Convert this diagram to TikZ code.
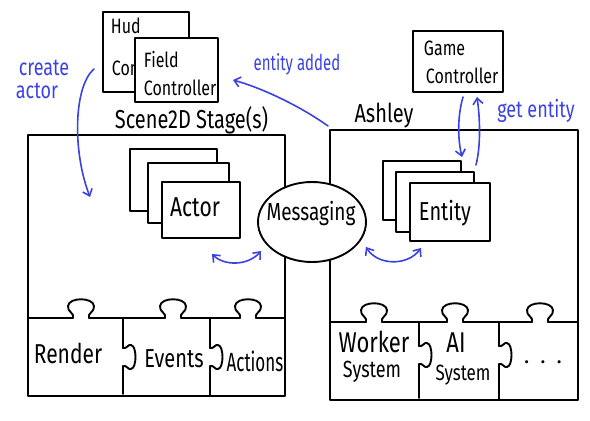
\documentclass[tikz,border=0pt]{standalone}
\usepackage{fontspec}
\usepackage{graphicx}
\setmainfont{Fira Sans}
\usetikzlibrary{arrows.meta,shapes.geometric}
\definecolor{pen}{RGB}{58,66,225}
\newcommand\hw[1]{\scalebox{1}[1.3]{#1}}
\newcommand\knobU[2]{-- ({#1-8},#2) .. controls ({#1-6},{#2-5}) and ({#1-14},{#2-6}) .. ({#1-13},{#2-12}) .. controls ({#1-12},{#2-21}) and ({#1+12},{#2-21}) .. ({#1+13},{#2-12}) .. controls ({#1+14},{#2-6}) and ({#1+6},{#2-5}) .. ({#1+8},#2)}
\newcommand\knobR[2]{-- (#1,{#2-9}) .. controls ({#1+4},{#2-8}) and ({#1+5},{#2-13}) .. ({#1+8},{#2-12}) .. controls ({#1+14},{#2-11}) and ({#1+14},{#2+11}) .. ({#1+8},{#2+12}) .. controls ({#1+5},{#2+13}) and ({#1+4},{#2+8}) .. (#1,{#2+9})}
\begin{document}
\begin{tikzpicture}[x=1pt,y=-1pt,line width=1.9pt,line join=round,line cap=round,
  box/.style={draw,fill=white,rectangle,inner sep=0pt},
  txt/.style={inner sep=0pt,anchor=base},
  note/.style={txt,text=pen},
  flow/.style={draw=pen,line width=1.6pt,-{Straight Barb[length=6pt,width=10pt]}},
  both/.style={draw=pen,line width=1.6pt,{Straight Barb[length=6pt,width=10pt]}-{Straight Barb[length=6pt,width=10pt]}}]
\useasboundingbox (0,0) rectangle (590,421);
% containers
\node[box,minimum width=257pt,minimum height=261pt] (scene) at (156.5,265.5) {};
\node[box,minimum width=248pt,minimum height=270pt] (ashley) at (454,265) {};
\node[txt,font=\fontsize{20}{22}\selectfont] (scenet) at (191.5,128) {\hw{Scene2D Stage(s)}};
\node[txt,font=\fontsize{20}{22}\selectfont] (ashleyt) at (384,122) {\hw{Ashley}};
% controllers
\node[box,minimum width=86pt,minimum height=80pt] (hud) at (146,52) {};
\node[txt,anchor=base west,font=\fontsize{16}{18}\selectfont] (hudt) at (110,33) {\hw{Hud}};
\begin{scope}
\clip (104,55) rectangle (135,90);
\node[txt,anchor=base west,font=\fontsize{16}{18}\selectfont] (hudc) at (111,75) {\hw{Con}};
\end{scope}
\node[box,minimum width=83pt,minimum height=64pt] (field) at (176.5,70) {};
\node[txt,anchor=base west,font=\fontsize{16}{18}\selectfont] (fieldt) at (143,67) {\hw{Field}};
\node[txt,anchor=base west,font=\fontsize{16}{18}\selectfont] (fieldc) at (143,95) {\hw{Controller}};
\node[box,minimum width=90pt,minimum height=61pt] (game) at (458,61.5) {};
\node[txt,anchor=base west,font=\fontsize{16}{18}\selectfont] (gamet) at (423,55) {\hw{Game}};
\node[txt,anchor=base west,font=\fontsize{16}{18}\selectfont] (gamec) at (425,83) {\hw{Controller}};
% stacks
\node[box,minimum width=87pt,minimum height=62pt] (a1) at (173.5,180) {};
\node[box,minimum width=81pt,minimum height=60pt] (a2) at (188.5,193) {};
\node[box,minimum width=78pt,minimum height=56pt] (actor) at (201,210) {};
\node[txt,font=\fontsize{21}{23}\selectfont] (actort) at (195,216) {\hw{Actor}};
\node[box,minimum width=78pt,minimum height=59pt] (e1) at (422,190.5) {};
\node[box,minimum width=78pt,minimum height=60pt] (e2) at (435,202) {};
\node[box,minimum width=80pt,minimum height=58pt] (entity) at (450,212) {};
\node[txt,font=\fontsize{20}{22}\selectfont] (entityt) at (445,220) {\hw{Entity}};
% messaging
\node[draw,fill=white,ellipse,minimum width=108pt,minimum height=80pt,inner sep=0pt] (msg) at (312,222) {};
\node[txt,font=\fontsize{19}{21}\selectfont] (msgt) at (311,220) {\hw{Messaging}};
% puzzles scene
\draw (28,318) \knobU{81}{318} \knobU{173}{318} \knobU{248}{318} -- (285,318);
\draw (123,318) \knobR{123}{357} -- (123,394);
\draw (210,318) \knobR{210}{357} -- (210,395);
\node[txt,font=\fontsize{21}{23}\selectfont] (render) at (68,363) {\hw{Render}};
\node[txt,font=\fontsize{20}{22}\selectfont] (events) at (174,367) {\hw{Events}};
\node[txt,font=\fontsize{17}{19}\selectfont] (actions) at (255,371) {\scalebox{1}[1.55]{Actions}};
% puzzles ashley
\draw (330,322) \knobU{374}{322} \knobU{455}{322} \knobU{540}{322} -- (578,322);
\draw (419,322) \knobR{419}{355} -- (419,398);
\draw (499,322) \knobR{499}{355} -- (499,399);
\node[txt,font=\fontsize{22}{24}\selectfont] (worker) at (374,352) {\hw{Worker}};
\node[txt,font=\fontsize{18}{20}\selectfont] (wsys) at (372,377) {\hw{System}};
\node[txt,font=\fontsize{22}{24}\selectfont] (ai) at (456,352) {\hw{AI}};
\node[txt,font=\fontsize{17}{19}\selectfont] (aisys) at (463,380) {\hw{System}};
\node[txt,font=\fontsize{22}{24}\selectfont] (dots) at (543,363) {.\,\,\,.\,\,\,.};
% notes
\node[note,font=\fontsize{18}{20}\selectfont] (createt) at (44,75) {\hw{create}};
\node[note,font=\fontsize{18}{20}\selectfont,anchor=base west] (actort2) at (15,98) {\hw{actor}};
\node[note,font=\fontsize{15}{17}\selectfont] (addedt) at (297,70) {\scalebox{1}[1.45]{entity added}};
\node[note,font=\fontsize{18}{20}\selectfont] (gett) at (536,117) {\hw{get entity}};
% connectors
\coordinate (cstart) at (94,69);
\coordinate (cend) at (90,197);
\coordinate (astart) at (328,126);
\coordinate (aend) at (233,80);
\coordinate (gdown1) at (463,97);
\coordinate (gdown2) at (462,157);
\coordinate (gup1) at (476,165);
\coordinate (gup2) at (477,97);
\coordinate (m1) at (212,254);
\coordinate (m2) at (261,251);
\coordinate (m3) at (366,247);
\coordinate (m4) at (421,248);
\draw[flow] (cstart) .. controls (74,86) and (72,150) .. (cend);
\draw[flow] (astart) .. controls (300,106) and (262,88) .. (aend);
\draw[flow] (gdown1) .. controls (457,118) and (458,140) .. (gdown2);
\draw[flow] (gup1) .. controls (481,145) and (480,118) .. (gup2);
\draw[both] (m1) .. controls (224,266) and (248,266) .. (m2);
\draw[both] (m3) .. controls (378,266) and (408,266) .. (m4);
\end{tikzpicture}
\end{document}
